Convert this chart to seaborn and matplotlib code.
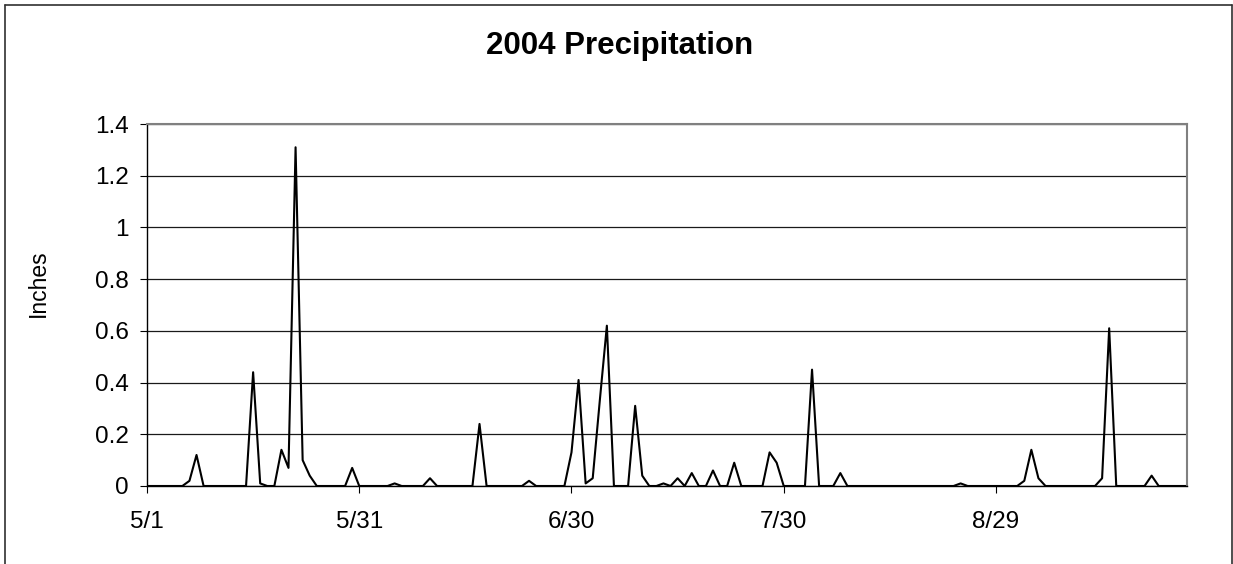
import matplotlib
matplotlib.use("Agg")
import matplotlib.pyplot as plt
from matplotlib.lines import Line2D
import seaborn as sns
import pandas as pd

# ---- data (daily precipitation, inches, 5/1/2004 .. 9/25/2004) ----
start_date = "2004-05-01"
precip = [
    0, 0, 0, 0, 0, 0, 0.02, 0.12, 0, 0,          # 5/1 - 5/10
    0, 0, 0, 0, 0, 0.44, 0.01, 0, 0, 0.14,       # 5/11 - 5/20
    0.07, 1.31, 0.10, 0.04, 0, 0, 0, 0, 0, 0.07, # 5/21 - 5/30
    0, 0, 0, 0, 0, 0.01, 0, 0, 0, 0,             # 5/31 - 6/9
    0.03, 0, 0, 0, 0, 0, 0, 0.24, 0, 0,          # 6/10 - 6/19
    0, 0, 0, 0, 0.02, 0, 0, 0, 0, 0,             # 6/20 - 6/29
    0.13, 0.41, 0.01, 0.03, 0.33, 0.62, 0, 0, 0, 0.31,  # 6/30 - 7/9
    0.04, 0, 0, 0.01, 0, 0.03, 0, 0.05, 0, 0,    # 7/10 - 7/19
    0.06, 0, 0, 0.09, 0, 0, 0, 0, 0.13, 0.09,    # 7/20 - 7/29
    0, 0, 0, 0, 0.45, 0, 0, 0, 0.05, 0,          # 7/30 - 8/8
    0, 0, 0, 0, 0, 0, 0, 0, 0, 0,                # 8/9 - 8/18
    0, 0, 0, 0, 0, 0.01, 0, 0, 0, 0,             # 8/19 - 8/28
    0, 0, 0, 0, 0.02, 0.14, 0.03, 0, 0, 0,       # 8/29 - 9/7
    0, 0, 0, 0, 0, 0.03, 0.61, 0, 0, 0,          # 9/8 - 9/17
    0, 0, 0.04, 0, 0, 0, 0, 0,                   # 9/18 - 9/25
]
tick_dates = ["2004-05-01", "2004-05-31", "2004-06-30", "2004-07-30", "2004-08-29"]
tick_labels = ["5/1", "5/31", "6/30", "7/30", "8/29"]
y_ticks = [0, 0.2, 0.4, 0.6, 0.8, 1, 1.2, 1.4]
y_tick_labels = ["0", "0.2", "0.4", "0.6", "0.8", "1", "1.2", "1.4"]
title = "2004 Precipitation"
y_label = "Inches"

dates = pd.date_range(start_date, periods=len(precip), freq="D")
df = pd.DataFrame({"date": dates, "inches": precip})

sns.set_style("white")
plt.rcParams["font.family"] = ["Liberation Sans", "DejaVu Sans"]

W, H = 1233, 564
fig = plt.figure(figsize=(W / 100, H / 100), dpi=100)
ax = fig.add_axes([147 / W, (H - 486) / H, (1187 - 147) / W, (486 - 124) / H])

sns.lineplot(data=df, x="date", y="inches", color="black", linewidth=1.5, ax=ax)

ax.set_xlim(dates[0], dates[-1])
ax.set_ylim(0, 1.4)
ax.set_xticks(pd.to_datetime(tick_dates))
ax.set_xticklabels(tick_labels)
ax.set_yticks(y_ticks)
ax.set_yticklabels(y_tick_labels)
ax.set_xlabel("")
ax.set_ylabel("")

ax.yaxis.grid(True, color="#1a1a1a", linewidth=0.9)
ax.xaxis.grid(False)
ax.set_axisbelow(True)

ax.tick_params(axis="both", direction="out", length=5, width=0.8, color="black",
               labelsize=17.5, labelcolor="black")
ax.tick_params(axis="x", pad=13)
ax.tick_params(axis="y", pad=8)
ax.tick_params(axis="both", which="both", bottom=True, left=True)

for side in ["left", "bottom"]:
    ax.spines[side].set_color("black")
    ax.spines[side].set_linewidth(1.0)
for side in ["top", "right"]:
    ax.spines[side].set_color("#808080")
    ax.spines[side].set_linewidth(1.5)

fig.text(620 / W, 1 - 46 / H, title, ha="center", va="center",
         fontsize=22.5, fontweight="bold", color="black")
fig.text(38 / W, 1 - 283 / H, y_label, ha="center", va="center",
         rotation=90, fontsize=16.5, color="black")

# chart-area frame (left, top, right; bottom is cropped)
fx0, fx1, fy = 4.7 / W, 1231.5 / W, 1 - 4.7 / H
for xs, ys in [([fx0, fx0], [-0.1, fy]), ([fx0, fx1], [fy, fy]), ([fx1, fx1], [fy, -0.1])]:
    fig.add_artist(Line2D(xs, ys, color="#303030", linewidth=1.2, transform=fig.transFigure))

fig.savefig("out.png", dpi=100)
